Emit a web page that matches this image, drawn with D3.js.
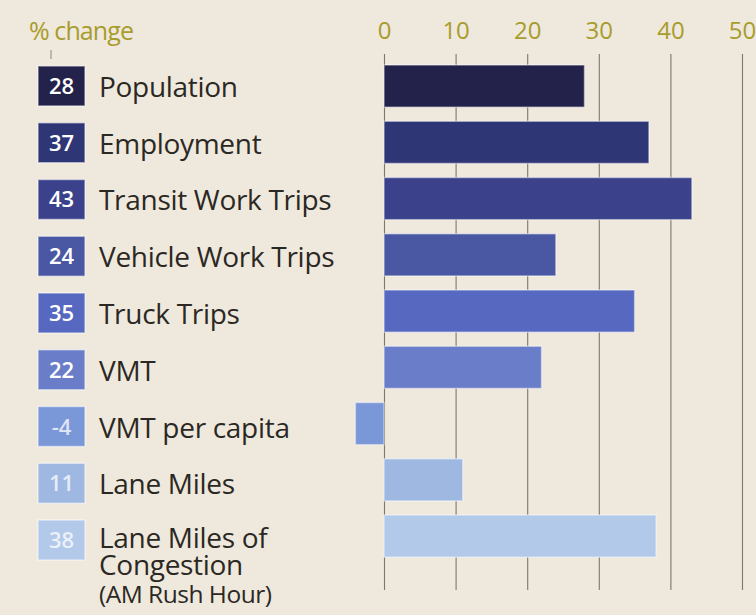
<!DOCTYPE html>
<html>
<head>
<meta charset="utf-8">
<script src="https://cdn.jsdelivr.net/npm/d3@7"></script>
<style>
  html, body { margin: 0; padding: 0; background: #efe8dc; }
  svg { display: block; }
</style>
</head>
<body>
<svg id="chart" width="756" height="615"></svg>
<script>
// Percent change by indicator
const categories = [
  "Population", "Employment", "Transit Work Trips", "Vehicle Work Trips",
  "Truck Trips", "VMT", "VMT per capita", "Lane Miles", "Lane Miles of Congestion"
];
const values = [28, 37, 43, 24, 35, 22, -4, 11, 38];
const labelLines = [
  ["Population"], ["Employment"], ["Transit Work Trips"], ["Vehicle Work Trips"],
  ["Truck Trips"], ["VMT"], ["VMT per capita"], ["Lane Miles"],
  ["Lane Miles of", "Congestion", "(AM Rush Hour)"]
];
const colors = [
  "#23224a", "#2f3676", "#3b428b", "#4a57a3", "#5668bf",
  "#6a7dc8", "#7a97d8", "#9fb8e2", "#b3c9ea"
];
const tickValues = [0, 10, 20, 30, 40, 50];
const axisTitle = "% change";

const svg = d3.select("#chart");
const font = "'Open Sans', 'DejaVu Sans', sans-serif";

const x = d3.scaleLinear().domain([0, 50]).range([384, 742]);
const y = d3.scaleBand().domain(categories).range([57.97, 564.22])
  .paddingInner(0.25).paddingOuter(0.125);
// the label column runs at a slightly wider pitch
const yl = d3.scaleBand().domain(categories).range([57.6, 568.4])
  .paddingInner(0.3).paddingOuter(0.15);

// gridlines via axis ticks
const grid = d3.axisTop(x).tickValues(tickValues).tickSize(-(590 - 54)).tickFormat("");
svg.append("g")
  .attr("transform", "translate(0,54)")
  .call(grid)
  .call(g => g.select(".domain").remove())
  .call(g => g.selectAll("line").attr("stroke", "#7d776c").attr("stroke-width", 1.1));

// tick labels
const axis = d3.axisTop(x).tickValues(tickValues).tickSize(0).tickPadding(0);
svg.append("g")
  .attr("transform", "translate(0,39)")
  .call(axis)
  .call(g => g.select(".domain").remove())
  .call(g => g.selectAll("text")
    .attr("font-family", font)
    .attr("font-size", 24)
    .attr("fill", "#a89c2c")
    .attr("dy", 0));

// axis title and its little marker
svg.append("text")
  .attr("x", 29).attr("y", 40)
  .attr("font-family", font).attr("font-size", 25)
  .attr("letter-spacing", -0.9)
  .attr("fill", "#a89c2c")
  .text(axisTitle);
svg.append("line")
  .attr("x1", 51).attr("x2", 51).attr("y1", 50).attr("y2", 59)
  .attr("stroke", "#8e887c").attr("stroke-width", 1);

// bars
svg.append("g").selectAll("rect")
  .data(categories)
  .join("rect")
  .attr("x", (d, i) => x(Math.min(0, values[i])))
  .attr("y", d => y(d))
  .attr("width", (d, i) => Math.abs(x(values[i]) - x(0)))
  .attr("height", y.bandwidth())
  .attr("fill", (d, i) => colors[i])
  .attr("stroke", "rgba(255,255,255,0.45)")
  .attr("stroke-width", 1.5);

// value badges
const badges = svg.append("g").selectAll("g")
  .data(categories)
  .join("g")
  .attr("transform", d => `translate(38,${yl(d) + yl.bandwidth() / 2})`);
badges.append("rect")
  .attr("x", 0).attr("y", -20).attr("width", 47).attr("height", 40)
  .attr("fill", (d, i) => colors[i])
  .attr("stroke", "rgba(255,255,255,0.5)")
  .attr("stroke-width", 1.5);
badges.append("text")
  .attr("x", 23.5).attr("y", 8)
  .attr("text-anchor", "middle")
  .attr("font-family", font).attr("font-size", 22)
  .attr("font-weight", 600)
  .attr("fill", (d, i) => i < 6 ? "#ffffff" : "rgba(255,255,255,0.75)")
  .text((d, i) => values[i]);

// category labels; multi-line labels start a little higher
const labels = svg.append("g").selectAll("text")
  .data(categories)
  .join("text")
  .attr("x", 99)
  .attr("y", d => yl(d) + yl.bandwidth() / 2 + 11)
  .attr("font-family", font)
  .attr("font-size", 28)
  .attr("letter-spacing", -0.3)
  .attr("fill", "#2b2824");
labels.each(function(d, i) {
  const t = d3.select(this);
  const lines = labelLines[i];
  lines.forEach((line, j) => {
    t.append("tspan")
      .attr("x", 99)
      .attr("dy", j === 0 ? (lines.length > 1 ? -3 : 0) : (j === 1 ? 27 : 28))
      .attr("font-size", j === 2 ? 24.5 : 28)
      .attr("letter-spacing", j === 2 ? -0.5 : -0.3)
      .text(line);
  });
});
</script>
</body>
</html>
